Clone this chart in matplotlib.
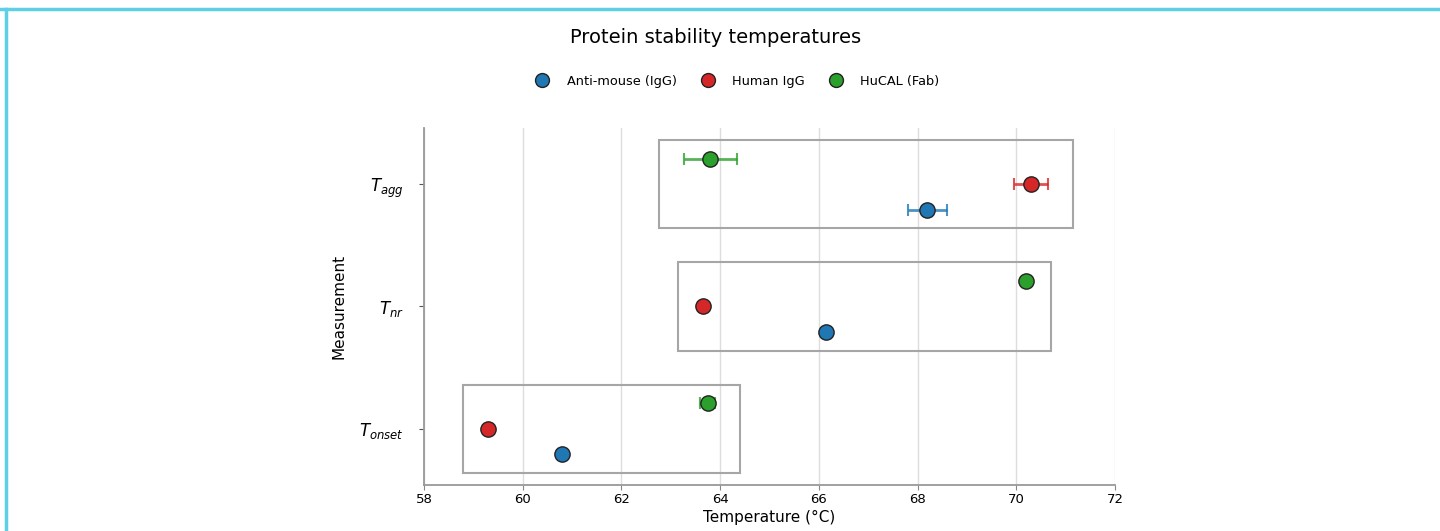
import matplotlib
matplotlib.use("Agg")
import matplotlib.pyplot as plt
import numpy as np
from matplotlib.lines import Line2D
from matplotlib.patches import Rectangle

measurements = ["$T_{onset}$", "$T_{nr}$", "$T_{agg}$"]
groups = ["Anti-mouse (IgG)", "Human IgG", "HuCAL (Fab)"]
colors = ["#1f77b4", "#d62728", "#2ca02c"]

# values per group, ordered as measurements (onset, nr, agg)
anti_mouse = [60.8, 66.15, 68.2]
anti_mouse_err = [0.0, 0.0, 0.4]
human_igg = [59.3, 63.65, 70.3]
human_igg_err = [0.0, 0.0, 0.35]
hucal = [63.75, 70.2, 63.8]
hucal_err = [0.15, 0.0, 0.54]

values = [anti_mouse, human_igg, hucal]
errors = [anti_mouse_err, human_igg_err, hucal_err]
offsets = [-0.21, 0.0, 0.21]
PAD = 0.5

fig = plt.figure(figsize=(14.4, 5.31), dpi=100)
ax = fig.add_axes([0.2944, 0.0866, 0.4799, 0.6724])

y = np.arange(len(measurements))
for vals, errs, off, col in zip(values, errors, offsets, colors):
    ax.errorbar(vals, y + off, xerr=errs, fmt="none", ecolor=col, alpha=0.8,
                elinewidth=2, capsize=4, capthick=1.5, zorder=3)
    ax.plot(vals, y + off, "o", ms=11, mfc=col, mec="#222222", mew=1, zorder=4)

# bounding box around each measurement group
for i in range(len(measurements)):
    lo = min(v[i] - e[i] for v, e in zip(values, errors)) - PAD
    hi = max(v[i] + e[i] for v, e in zip(values, errors)) + PAD
    ax.add_patch(Rectangle((lo, i - 0.36), hi - lo, 0.72, fill=False,
                           ec="#a6a6a6", lw=1.5, zorder=2))

ax.set_xlim(58, 72)
ax.set_ylim(-0.46, 2.46)
ax.set_xticks(np.arange(58, 73, 2))
ax.set_yticks(y)
ax.set_yticklabels(measurements, fontsize=12)
ax.tick_params(axis="x", labelsize=9.5, color="#888888", pad=2)
ax.tick_params(axis="y", color="#555555", pad=11)
ax.grid(axis="x", color="#dddddd", lw=1)
ax.set_axisbelow(True)
for s in ["top", "right"]:
    ax.spines[s].set_visible(False)
for s in ["left", "bottom"]:
    ax.spines[s].set_color("#999999")
    ax.spines[s].set_linewidth(1.3)
ax.set_xlabel("Temperature (°C)", fontsize=11, labelpad=3)
ax.set_ylabel("Measurement", fontsize=11, labelpad=9)

fig.text(0.497, 0.93, "Protein stability temperatures", ha="center", va="center", fontsize=14)
handles = [Line2D([], [], ls="", marker="o", ms=10, mfc=c, mec="#222222", mew=1) for c in colors]
fig.legend(handles, groups, loc="center", bbox_to_anchor=(0.51, 0.847), ncol=3,
           frameon=False, fontsize=9.3, columnspacing=1.4, handletextpad=0.9)

# screenshot frame
fig.add_artist(Line2D([0, 1], [1 - 9 / 531] * 2, transform=fig.transFigure, color="#5fd0e3", lw=2.5))
fig.add_artist(Line2D([5.5 / 1440] * 2, [0, 1 - 9 / 531], transform=fig.transFigure, color="#5fd0e3", lw=2.5))

fig.savefig("out.png", dpi=100)
